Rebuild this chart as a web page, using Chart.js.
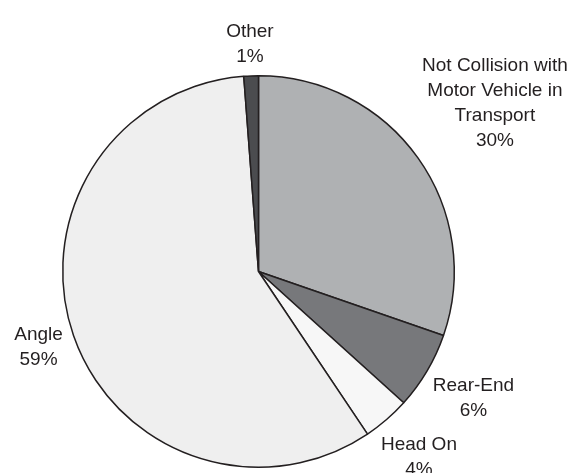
<!DOCTYPE html>
<html>
<head>
<meta charset="utf-8">
<script src="https://cdn.jsdelivr.net/npm/chart.js@4/dist/chart.umd.min.js"></script>
<style>
  html, body { margin: 0; padding: 0; background: #fff; }
  #wrap { width: 580px; height: 473px; }
</style>
</head>
<body>
<div id="wrap"><canvas id="crash-chart" width="580" height="473"></canvas></div>
<script>
// slice names (one array entry per printed line)
const categories = [
  ["Not Collision with", "Motor Vehicle in", "Transport"],
  ["Rear-End"],
  ["Head On"],
  ["Angle"],
  ["Other"]
];
// slice sizes (share of crashes)
const values = [30.3, 6.4, 3.9, 58.2, 1.2];
// percentages as printed on the chart
const percentText = ["30%", "6%", "4%", "59%", "1%"];

const sliceColors = ["#afb1b3", "#77787b", "#f7f7f7", "#efefef", "#4b4c4f"];

// distance from point (px,py) to a box given by centre and half sizes
function boxDist(px, py, cx, cy, hw, hh) {
  const qx = Math.max(Math.abs(px - cx) - hw, 0);
  const qy = Math.max(Math.abs(py - cy) - hh, 0);
  return Math.hypot(qx, qy);
}

// draws each label outside its slice: slides the text box out along the
// slice's middle angle until it clears the pie by a small gap
const outsideLabels = {
  id: 'outsideLabels',
  afterDatasetsDraw(chart) {
    const ctx = chart.ctx;
    const arcs = chart.getDatasetMeta(0).data;
    const lineH = 25;
    const gap = 6;
    ctx.save();
    ctx.font = '19px "Liberation Sans", Arial, sans-serif';
    ctx.fillStyle = '#231f20';
    ctx.textAlign = 'center';
    ctx.textBaseline = 'middle';
    arcs.forEach((arc, i) => {
      const lines = categories[i].concat([percentText[i]]);
      const mid = (arc.startAngle + arc.endAngle) / 2;
      const dx = Math.cos(mid), dy = Math.sin(mid);
      const halfW = Math.max(...lines.map(l => ctx.measureText(l).width)) / 2;
      const halfH = lines.length * lineH / 2;
      let t = arc.outerRadius;
      let cx, cy;
      for (;;) {
        cx = arc.x + dx * t;
        cy = arc.y + dy * t;
        if (boxDist(arc.x, arc.y, cx, cy, halfW, halfH) >= arc.outerRadius + gap) break;
        t += 0.5;
      }
      lines.forEach((l, j) => {
        ctx.fillText(l, cx, cy - halfH + lineH * (j + 0.5));
      });
    });
    ctx.restore();
  }
};

new Chart('crash-chart', {
  type: 'pie',
  data: {
    labels: categories.map(c => c.join(' ')),
    datasets: [{
      data: values,
      backgroundColor: sliceColors,
      borderColor: '#231f20',
      borderWidth: 1.5
    }]
  },
  options: {
    responsive: false,
    animation: false,
    layout: {
      padding: { top: 75, bottom: 5, left: 62, right: 125 }
    },
    plugins: {
      legend: { display: false },
      tooltip: { enabled: false }
    }
  },
  plugins: [outsideLabels]
});
</script>
</body>
</html>
